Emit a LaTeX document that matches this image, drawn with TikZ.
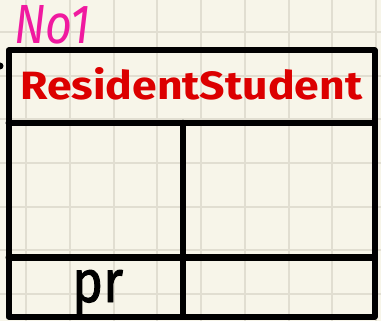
\documentclass[tikz,border=0pt]{standalone}
\usepackage{fontspec}
\setmainfont{Fira Sans}
\newfontfamily\prfont[FakeBold=1.6]{Fira Sans}
\usepackage{graphicx}
\definecolor{paper}{HTML}{F7F5E9}
\definecolor{gridc}{HTML}{E1DED1}
\definecolor{titlered}{HTML}{DC0000}
\definecolor{pinkink}{HTML}{F01AA0}
\tikzset{
  frame/.style={line width=6pt, line join=round, line cap=round, black},
  gridline/.style={line width=2pt, gridc},
}
\begin{document}
\begin{tikzpicture}[x=1pt,y=-1pt]
\useasboundingbox (0,0) rectangle (381,321);
\fill[paper] (0,0) rectangle (381,321);
\foreach \i in {0,...,8} {
  \draw[gridline] ({26+43.75*\i},0) -- ({26+43.75*\i},321);
}
\foreach \j in {0,...,6} {
  \draw[gridline] (0,{32+43.7*\j}) -- (381,{32+43.7*\j});
}
% table frame
\coordinate (tl) at (8.5,50.5);
\coordinate (br) at (374.5,316.5);
\coordinate (h1l) at (8.5,122.7);
\coordinate (h1r) at (374.5,122.7);
\coordinate (h2l) at (8.5,257.5);
\coordinate (h2r) at (374.5,257.5);
\coordinate (vt) at (183,122.7);
\coordinate (vb) at (183,316.5);
\draw[frame] (tl) rectangle (br);
\draw[frame] (h1l) -- (h1r);
\draw[frame] (h2l) -- (h2r);
\draw[frame] (vt) -- (vb);
% texts
\node[anchor=base west, inner sep=0pt, text=titlered] (title) at (20,99.5)
  {\resizebox{342pt}{32pt}{\bfseries ResidentStudent}};
\node[anchor=base west, inner sep=0pt] (pr) at (72,302)
  {\resizebox{51pt}{32pt}{\prfont pr}};
\node[anchor=base west, inner sep=0pt, text=pinkink] (note) at (14,44)
  {\resizebox{76pt}{38pt}{\itshape No1}};
% small mark at left edge
\fill[black] (0,66) circle (3.5);
\end{tikzpicture}
\end{document}
